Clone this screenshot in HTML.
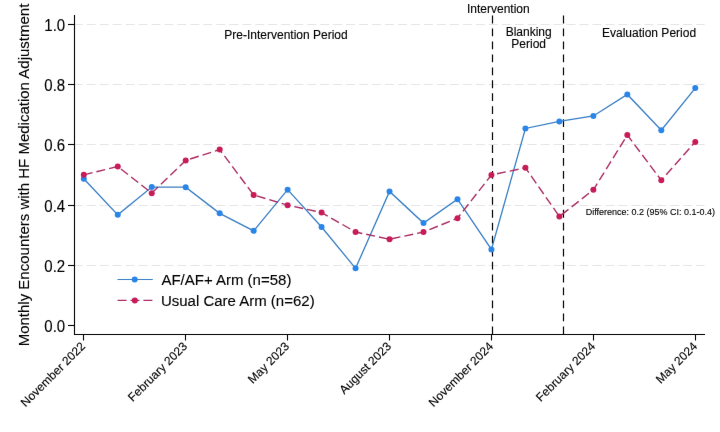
<!DOCTYPE html><html><head><meta charset="utf-8"><style>html,body{margin:0;padding:0;background:#fff;}svg{display:block;}text{font-family:"Liberation Sans",sans-serif;fill:#000;stroke:#000;stroke-width:0.12px;}svg{will-change:transform;}</style></head><body>
<div id="w">
<svg width="720" height="432" viewBox="0 0 720 432">
<defs><filter id="bl" color-interpolation-filters="sRGB" x="0" y="0" width="720" height="432" filterUnits="userSpaceOnUse"><feConvolveMatrix order="3" kernelMatrix="0.00163 0.03713 0.00163 0.03713 0.84497 0.03713 0.00163 0.03713 0.00163" edgeMode="duplicate" preserveAlpha="false"/></filter></defs><g filter="url(#bl)">
<rect width="720" height="432" fill="#fff"/>
<line x1="73.7" y1="265.5" x2="704.6" y2="265.5" stroke="#e5e5e5" stroke-width="1" stroke-dasharray="9 3.97"/>
<line x1="73.7" y1="205.5" x2="704.6" y2="205.5" stroke="#e5e5e5" stroke-width="1" stroke-dasharray="9 3.97"/>
<line x1="73.7" y1="144.5" x2="704.6" y2="144.5" stroke="#e5e5e5" stroke-width="1" stroke-dasharray="9 3.97"/>
<line x1="73.7" y1="84.5" x2="704.6" y2="84.5" stroke="#e5e5e5" stroke-width="1" stroke-dasharray="9 3.97"/>
<line x1="73.7" y1="24.5" x2="704.6" y2="24.5" stroke="#e5e5e5" stroke-width="1" stroke-dasharray="9 3.97"/>
<line x1="492.5" y1="15.6" x2="492.5" y2="334" stroke="#000" stroke-width="1.2" stroke-dasharray="7.8 5.15"/>
<line x1="563.5" y1="15.6" x2="563.5" y2="334" stroke="#000" stroke-width="1.2" stroke-dasharray="7.8 5.15"/>
<path d="M74.5 15 V334.5 H705" fill="none" stroke="#000" stroke-width="1.1"/>
<line x1="68" y1="325.5" x2="74.5" y2="325.5" stroke="#000" stroke-width="1.1"/>
<text transform="translate(65.2 331.50) scale(1 1.04)" font-size="15" text-anchor="end">0.0</text>
<line x1="68" y1="265.5" x2="74.5" y2="265.5" stroke="#000" stroke-width="1.1"/>
<text transform="translate(65.2 271.50) scale(1 1.04)" font-size="15" text-anchor="end">0.2</text>
<line x1="68" y1="205.5" x2="74.5" y2="205.5" stroke="#000" stroke-width="1.1"/>
<text transform="translate(65.2 211.50) scale(1 1.04)" font-size="15" text-anchor="end">0.4</text>
<line x1="68" y1="144.5" x2="74.5" y2="144.5" stroke="#000" stroke-width="1.1"/>
<text transform="translate(65.2 150.50) scale(1 1.04)" font-size="15" text-anchor="end">0.6</text>
<line x1="68" y1="84.5" x2="74.5" y2="84.5" stroke="#000" stroke-width="1.1"/>
<text transform="translate(65.2 90.50) scale(1 1.04)" font-size="15" text-anchor="end">0.8</text>
<line x1="68" y1="24.5" x2="74.5" y2="24.5" stroke="#000" stroke-width="1.1"/>
<text transform="translate(65.2 30.50) scale(1 1.04)" font-size="15" text-anchor="end">1.0</text>
<line x1="83.5" y1="334.5" x2="83.5" y2="340.5" stroke="#000" stroke-width="1.1"/>
<text x="86.0" y="347" font-size="12" text-anchor="end" transform="rotate(-45 86.0 347)">November 2022</text>
<line x1="185.5" y1="334.5" x2="185.5" y2="340.5" stroke="#000" stroke-width="1.1"/>
<text x="188.0" y="347" font-size="12" text-anchor="end" transform="rotate(-45 188.0 347)">February 2023</text>
<line x1="287.5" y1="334.5" x2="287.5" y2="340.5" stroke="#000" stroke-width="1.1"/>
<text x="290.0" y="347" font-size="12" text-anchor="end" transform="rotate(-45 290.0 347)">May 2023</text>
<line x1="389.5" y1="334.5" x2="389.5" y2="340.5" stroke="#000" stroke-width="1.1"/>
<text x="392.0" y="347" font-size="12" text-anchor="end" transform="rotate(-45 392.0 347)">August 2023</text>
<line x1="491.5" y1="334.5" x2="491.5" y2="340.5" stroke="#000" stroke-width="1.1"/>
<text x="494.0" y="347" font-size="12" text-anchor="end" transform="rotate(-45 494.0 347)">November 2024</text>
<line x1="593.5" y1="334.5" x2="593.5" y2="340.5" stroke="#000" stroke-width="1.1"/>
<text x="596.0" y="347" font-size="12" text-anchor="end" transform="rotate(-45 596.0 347)">February 2024</text>
<line x1="695.5" y1="334.5" x2="695.5" y2="340.5" stroke="#000" stroke-width="1.1"/>
<text x="698.0" y="347" font-size="12" text-anchor="end" transform="rotate(-45 698.0 347)">May 2024</text>
<polyline points="83.80,178.75 117.77,214.85 151.74,187.05 185.71,187.15 219.68,213.35 253.65,230.85 287.62,189.65 321.59,227.05 355.56,268.35 389.53,191.45 423.50,223.05 457.47,199.25 491.44,249.45 525.41,128.45 559.38,121.45 593.35,115.95 627.32,94.45 661.29,130.25 695.26,88.05" fill="none" stroke="#387ec4" stroke-width="1.3"/>
<circle cx="83.80" cy="178.75" r="3.0" fill="#2a85e8"/>
<circle cx="117.77" cy="214.85" r="3.0" fill="#2a85e8"/>
<circle cx="151.74" cy="187.05" r="3.0" fill="#2a85e8"/>
<circle cx="185.71" cy="187.15" r="3.0" fill="#2a85e8"/>
<circle cx="219.68" cy="213.35" r="3.0" fill="#2a85e8"/>
<circle cx="253.65" cy="230.85" r="3.0" fill="#2a85e8"/>
<circle cx="287.62" cy="189.65" r="3.0" fill="#2a85e8"/>
<circle cx="321.59" cy="227.05" r="3.0" fill="#2a85e8"/>
<circle cx="355.56" cy="268.35" r="3.0" fill="#2a85e8"/>
<circle cx="389.53" cy="191.45" r="3.0" fill="#2a85e8"/>
<circle cx="423.50" cy="223.05" r="3.0" fill="#2a85e8"/>
<circle cx="457.47" cy="199.25" r="3.0" fill="#2a85e8"/>
<circle cx="491.44" cy="249.45" r="3.0" fill="#2a85e8"/>
<circle cx="525.41" cy="128.45" r="3.0" fill="#2a85e8"/>
<circle cx="559.38" cy="121.45" r="3.0" fill="#2a85e8"/>
<circle cx="593.35" cy="115.95" r="3.0" fill="#2a85e8"/>
<circle cx="627.32" cy="94.45" r="3.0" fill="#2a85e8"/>
<circle cx="661.29" cy="130.25" r="3.0" fill="#2a85e8"/>
<circle cx="695.26" cy="88.05" r="3.0" fill="#2a85e8"/>
<polyline points="83.80,174.85 117.77,166.45 151.74,193.15 185.71,160.45 219.68,149.55 253.65,194.95 287.62,205.15 321.59,212.55 355.56,232.05 389.53,239.25 423.50,232.05 457.47,218.25 491.44,174.95 525.41,167.75 559.38,216.50 593.35,189.85 627.32,135.05 661.29,180.25 695.26,141.95" fill="none" stroke="#aa2c64" stroke-width="1.4" stroke-dasharray="9 4"/>
<circle cx="83.80" cy="174.85" r="3.0" fill="#c81c58"/>
<circle cx="117.77" cy="166.45" r="3.0" fill="#c81c58"/>
<circle cx="151.74" cy="193.15" r="3.0" fill="#c81c58"/>
<circle cx="185.71" cy="160.45" r="3.0" fill="#c81c58"/>
<circle cx="219.68" cy="149.55" r="3.0" fill="#c81c58"/>
<circle cx="253.65" cy="194.95" r="3.0" fill="#c81c58"/>
<circle cx="287.62" cy="205.15" r="3.0" fill="#c81c58"/>
<circle cx="321.59" cy="212.55" r="3.0" fill="#c81c58"/>
<circle cx="355.56" cy="232.05" r="3.0" fill="#c81c58"/>
<circle cx="389.53" cy="239.25" r="3.0" fill="#c81c58"/>
<circle cx="423.50" cy="232.05" r="3.0" fill="#c81c58"/>
<circle cx="457.47" cy="218.25" r="3.0" fill="#c81c58"/>
<circle cx="491.44" cy="174.95" r="3.0" fill="#c81c58"/>
<circle cx="525.41" cy="167.75" r="3.0" fill="#c81c58"/>
<circle cx="559.38" cy="216.50" r="3.0" fill="#c81c58"/>
<circle cx="593.35" cy="189.85" r="3.0" fill="#c81c58"/>
<circle cx="627.32" cy="135.05" r="3.0" fill="#c81c58"/>
<circle cx="661.29" cy="180.25" r="3.0" fill="#c81c58"/>
<circle cx="695.26" cy="141.95" r="3.0" fill="#c81c58"/>
<text x="224.3" y="38.5" font-size="12">Pre-Intervention Period</text>
<text x="602" y="36.8" font-size="12">Evaluation Period</text>
<text x="467" y="12.9" font-size="12">Intervention</text>
<text x="528.7" y="36" font-size="12" text-anchor="middle">Blanking</text>
<text x="528.7" y="47.6" font-size="12" text-anchor="middle">Period</text>
<text transform="translate(585.7 215.1) scale(1 1.1)" font-size="9">Difference: 0.2 (95% CI: 0.1-0.4)</text>
<line x1="117.5" y1="279.5" x2="152.8" y2="279.5" stroke="#387ec4" stroke-width="1.2"/>
<circle cx="134.7" cy="279.5" r="3.0" fill="#2a85e8"/>
<line x1="117.6" y1="300.4" x2="152.8" y2="300.4" stroke="#aa2c64" stroke-width="1.3" stroke-dasharray="9 3.9"/>
<circle cx="134.8" cy="300.5" r="3.0" fill="#c81c58"/>
<text transform="translate(161.4 284.9) scale(1 1.03)" font-size="15">AF/AF+ Arm (n=58)</text>
<text transform="translate(160.9 305.7) scale(1 1.03)" font-size="15">Usual Care Arm (n=62)</text>
<text x="29.2" y="175" font-size="15" text-anchor="middle" transform="rotate(-90 29.2 175)">Monthly Encounters with HF Medication Adjustment</text>
</g></svg></div></body></html>
